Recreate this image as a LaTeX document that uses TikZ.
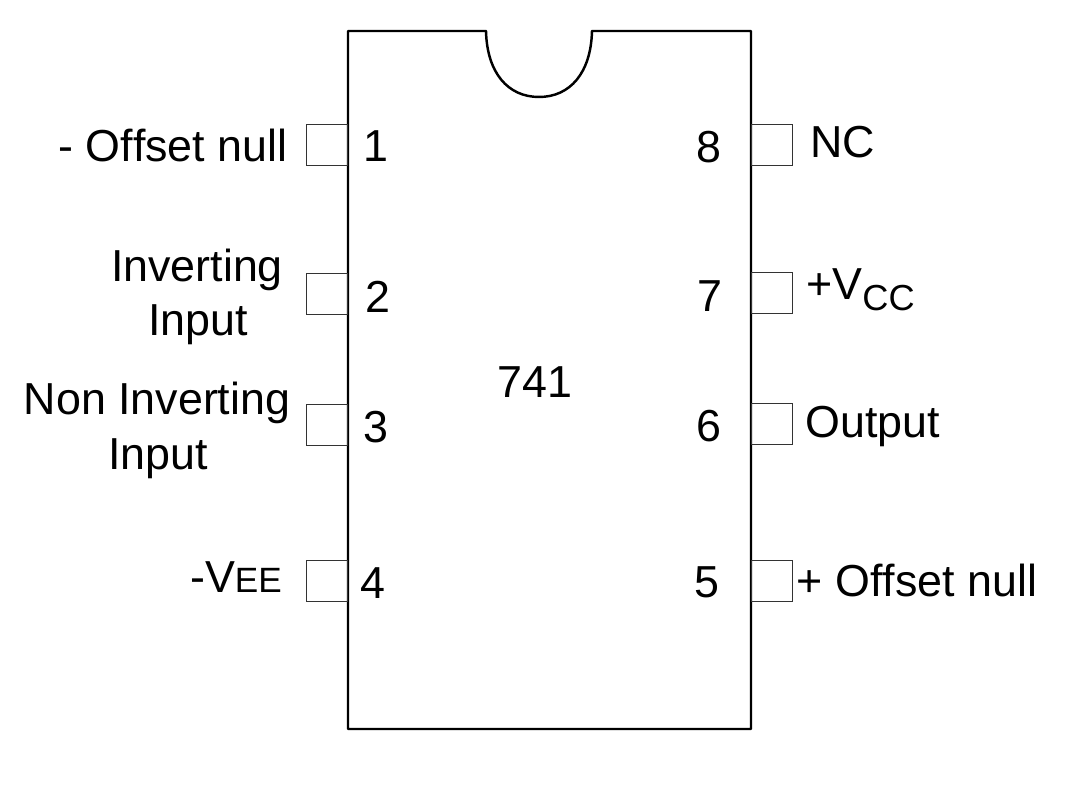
\documentclass[tikz,border=0pt]{standalone}
\usepackage{fontspec}
\setmainfont{Liberation Sans}
\tikzset{
	pinbox/.style={draw,line width=.25pt,color=black!80,minimum size=.41cm,inner sep=0pt,outer sep=0pt},
	pinlabel/.style={font=\fontsize{12.75}{14}\selectfont,anchor=base,inner sep=0pt},
}

\begin{document}
\begin{tikzpicture}
	\useasboundingbox (0,0) rectangle (10.67,8.03);
	% body of the chip with its notch
	\draw[line width=.7pt,line join=round] (3.48,7.72) -- (4.86,7.72) .. controls (4.87,7.3) and (5.08,7.06) .. (5.39,7.06) .. controls (5.7,7.06) and (5.91,7.3) .. (5.92,7.72) -- (7.51,7.72) -- (7.51,.74) -- (3.48,.74) -- cycle;
	% pins
	\foreach \n/\x/\y in {1/3.265/6.585,2/3.265/5.095,3/3.265/3.78,4/3.265/2.225,8/7.715/6.585,7/7.715/5.105,6/7.715/3.795,5/7.715/2.225}
	\node[pinbox] (pin\n) at (\x,\y) {};
	% pin numbers
	\foreach \n/\x/\y in {1/3.76/6.41,2/3.78/4.90,3/3.76/3.60,4/3.73/2.04,8/7.09/6.40,7/7.1/4.91,6/7.09/3.61,5/7.07/2.05}
	\node[pinlabel] (num\n) at (\x,\y) {\n};
	\node[pinlabel] (type) at (5.35,4.05) {741};
	% left labels
	\node[pinlabel] (offsetminus) at (1.73,6.41) {- Of\kern0ptfset null};
	\node[pinlabel] (invone) at (1.97,5.21) {Inverting};
	\node[pinlabel] (invtwo) at (1.98,4.67) {Input};
	\node[pinlabel] (noninvone) at (1.57,3.88) {Non Inverting};
	\node[pinlabel] (noninvtwo) at (1.58,3.33) {Input};
	\node[pinlabel] (vee) at (2.36,2.10) {-V{\fontsize{10}{11}\selectfont EE}};
	% right labels
	\node[pinlabel] (nc) at (8.43,6.45) {NC};
	\node[pinlabel] (vcc) at (8.605,5.03) {+V\raisebox{-3.1pt}{\fontsize{10.3}{11}\selectfont CC}};
	\node[pinlabel] (output) at (8.73,3.65) {Output};
	\node[pinlabel] (offsetplus) at (9.17,2.06) {+ Of\kern0ptfset null};
\end{tikzpicture}
\end{document}
